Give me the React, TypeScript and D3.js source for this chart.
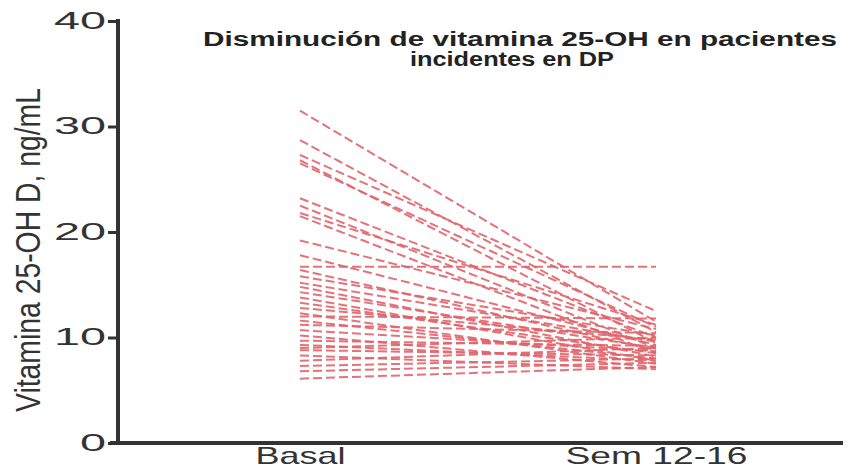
import * as d3 from "d3";
import React, {useEffect, useRef} from "react";

// values, one patient per index
const categories = ["Basal", "Sem 12-16"];
const basalValues = [31.5, 28.7, 27.3, 26.8, 26.5, 23.2, 22.5, 21.8, 21.5, 19.2, 17.8, 16.7, 16.4, 15.8, 15.2, 14.8, 14.3, 13.8, 13.3, 12.8, 12.3, 12.0, 11.6, 11.2, 10.7, 10.2, 9.7, 9.3, 9.0, 8.8, 8.3, 7.8, 7.3, 6.8, 6.1];
const semValues = [11.5, 10.5, 12.5, 9.5, 11.0, 10.0, 9.0, 11.2, 8.5, 10.8, 9.3, 16.7, 8.8, 10.2, 9.6, 8.2, 9.0, 7.8, 8.5, 9.8, 7.5, 11.8, 8.0, 10.4, 8.7, 7.2, 9.2, 7.8, 10.0, 8.3, 7.0, 9.0, 8.0, 7.6, 7.2];
const yTicks = [0, 10, 20, 30, 40];
const titleLines = ["Disminución de vitamina 25-OH en pacientes", "incidentes en DP"];
const yLabel = "Vitamina 25-OH D, ng/mL";

const width = 852;
const height = 470;
const font = '"Liberation Sans", Arial, sans-serif';

const App: React.FC = () => {
  const ref = useRef<SVGSVGElement | null>(null);

  useEffect(() => {
    const svg = d3.select(ref.current);
    svg.selectAll('*').remove();

    const yScale = d3.scaleLinear().domain([0, 40]).range([443, 21]);
    const xScale = d3.scalePoint<string>().domain(categories).range([300, 656]);

    const pairs = basalValues.map((b, i) => [b, semValues[i]]);

    // patient lines
    const line = d3.line<number>()
      .x((_, i) => xScale(categories[i]) as number)
      .y((d) => yScale(d));

    svg.append('g')
      .selectAll('path')
      .data(pairs)
      .enter()
      .append('path')
      .attr('d', (d) => line(d))
      .attr('fill', 'none')
      .attr('stroke', '#e0646a')
      .attr('stroke-width', 2)
      .attr('stroke-dasharray', '9,4')
      .attr('opacity', 0.9);

    // y axis
    const yAxis = svg.append('g')
      .attr('transform', 'translate(118, 0)')
      .call(d3.axisLeft(yScale).tickValues(yTicks).tickSize(10).tickPadding(2));
    yAxis.select('.domain').remove();
    yAxis.selectAll('.tick line').attr('stroke', '#333').attr('stroke-width', 3);
    yAxis.selectAll<SVGTextElement, number>('.tick text')
      .attr('fill', '#333')
      .attr('textLength', (d) => (d === 0 ? 26 : 52))
      .attr('lengthAdjust', 'spacingAndGlyphs')
      .style('font-family', font)
      .style('font-size', '23px');
    yAxis.append('line')
      .attr('x1', 0).attr('x2', 0)
      .attr('y1', yScale(40) - 2).attr('y2', yScale(0) + 2)
      .attr('stroke', '#333').attr('stroke-width', 4);

    // x axis
    const xAxis = svg.append('g')
      .attr('transform', `translate(0, ${yScale(0)})`)
      .call(d3.axisBottom(xScale).tickSize(0).tickPadding(4));
    xAxis.select('.domain').remove();
    xAxis.selectAll<SVGTextElement, string>('.tick text')
      .attr('fill', '#333')
      .attr('textLength', (d) => (d === 'Basal' ? 90 : 182))
      .attr('lengthAdjust', 'spacingAndGlyphs')
      .style('font-family', font)
      .style('font-size', '24px');
    xAxis.append('line')
      .attr('x1', 110).attr('x2', 843)
      .attr('y1', 0).attr('y2', 0)
      .attr('stroke', '#333').attr('stroke-width', 4);

    // title
    titleLines.forEach((t, i) => {
      svg.append('text')
        .attr('x', i === 0 ? 520 : 512).attr('y', 46 + i * 20)
        .attr('text-anchor', 'middle')
        .attr('textLength', i === 0 ? 634 : 204)
        .attr('lengthAdjust', 'spacingAndGlyphs')
        .attr('fill', '#222')
        .style('font-family', font)
        .style('font-weight', 'bold')
        .style('font-size', '20px')
        .text(t);
    });

    // y label
    svg.append('text')
      .attr('transform', 'translate(40, 250) rotate(-90)')
      .attr('text-anchor', 'middle')
      .attr('textLength', 324)
      .attr('lengthAdjust', 'spacingAndGlyphs')
      .attr('fill', '#333')
      .style('font-family', font)
      .style('font-size', '35px')
      .text(yLabel);

    return () => {
      svg.selectAll('*').remove();
    };
  }, []);

  return (
    <svg ref={ref} width={width} height={height}
      style={{position: 'absolute', left: 0, top: 0, background: '#fff'}} />
  );
};

export default App;
